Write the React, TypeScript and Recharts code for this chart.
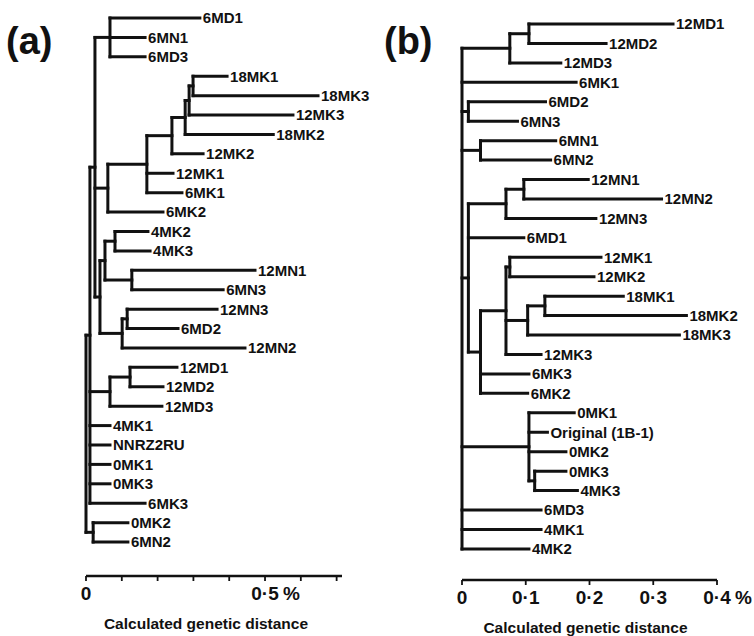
import React from 'react';
import { ComposedChart, Scatter, XAxis, YAxis, ReferenceLine } from 'recharts';

const FONT = "'Liberation Sans', Arial, Helvetica, sans-serif";
const INK = '#111';

// ---- panel (a) ----
const leavesA = ['6MD1', '6MN1', '6MD3', '18MK1', '18MK3', '12MK3', '18MK2', '12MK2', '12MK1', '6MK1', '6MK2', '4MK2', '4MK3', '12MN1', '6MN3', '12MN3', '6MD2', '12MN2', '12MD1', '12MD2', '12MD3', '4MK1', 'NNRZ2RU', '0MK1', '0MK3', '6MK3', '0MK2', '6MN2'];
const tipsA = [0.318, 0.165, 0.165, 0.394, 0.648, 0.578, 0.523, 0.327, 0.243, 0.268, 0.215, 0.173, 0.179, 0.472, 0.383, 0.366, 0.257, 0.444, 0.254, 0.215, 0.212, 0.067, 0.067, 0.067, 0.067, 0.165, 0.117, 0.117];
const nodesA = [
  { id: 'a1', x: 0.299, kids: ['18MK1', '18MK3'] },
  { id: 'a2', x: 0.288, kids: ['a1', '12MK3'] },
  { id: 'a3', x: 0.277, kids: ['a2', '18MK2'] },
  { id: 'a4', x: 0.24, kids: ['a3', '12MK2'] },
  { id: 'a5', x: 0.17, kids: ['a4', '12MK1', '6MK1'] },
  { id: 'a6', x: 0.061, kids: ['a5', '6MK2'] },
  { id: 'a7', x: 0.067, kids: ['6MD1', '6MN1', '6MD3'] },
  { id: 'a8', x: 0.081, kids: ['4MK2', '4MK3'] },
  { id: 'a9', x: 0.128, kids: ['12MN1', '6MN3'] },
  { id: 'a10', x: 0.053, kids: ['a8', 'a9'] },
  { id: 'a11', x: 0.115, kids: ['12MN3', '6MD2'] },
  { id: 'a12', x: 0.101, kids: ['a11', '12MN2'] },
  { id: 'a13', x: 0.039, kids: ['a10', 'a12'] },
  { id: 'a14', x: 0.025, kids: ['a7', 'a6', 'a13'] },
  { id: 'a15', x: 0.123, kids: ['12MD1', '12MD2'] },
  { id: 'a16', x: 0.067, kids: ['a15', '12MD3'] },
  { id: 'a17', x: 0.011, kids: ['a14', 'a16', '4MK1', 'NNRZ2RU', '0MK1', '0MK3', '6MK3'] },
  { id: 'a18', x: 0.02, kids: ['0MK2', '6MN2'] },
  { id: 'a0', x: 0, kids: ['a17', 'a18'] },
];
const ticksA = [0, 0.1, 0.2, 0.3, 0.4, 0.5, 0.6, 0.7];
const tickLabelsA = ['0', '', '', '', '', '0·5 %', '', ''];

// ---- panel (b) ----
const leavesB = ['12MD1', '12MD2', '12MD3', '6MK1', '6MD2', '6MN3', '6MN1', '6MN2', '12MN1', '12MN2', '12MN3', '6MD1', '12MK1', '12MK2', '18MK1', '18MK2', '18MK3', '12MK3', '6MK3', '6MK2', '0MK1', 'Original (1B-1)', '0MK2', '0MK3', '4MK3', '6MD3', '4MK1', '4MK2'];
const tipsB = [0.331, 0.226, 0.155, 0.179, 0.131, 0.087, 0.147, 0.139, 0.198, 0.313, 0.21, 0.097, 0.218, 0.207, 0.253, 0.352, 0.341, 0.124, 0.105, 0.103, 0.176, 0.134, 0.163, 0.163, 0.181, 0.124, 0.124, 0.105];
const nodesB = [
  { id: 'b1', x: 0.105, kids: ['12MD1', '12MD2'] },
  { id: 'b2', x: 0.075, kids: ['b1', '12MD3'] },
  { id: 'b3', x: 0.01, kids: ['6MD2', '6MN3'] },
  { id: 'b4', x: 0.029, kids: ['6MN1', '6MN2'] },
  { id: 'b5', x: 0.097, kids: ['12MN1', '12MN2'] },
  { id: 'b6', x: 0.069, kids: ['b5', '12MN3'] },
  { id: 'b7', x: 0.075, kids: ['12MK1', '12MK2'] },
  { id: 'b8', x: 0.13, kids: ['18MK1', '18MK2'] },
  { id: 'b9', x: 0.103, kids: ['b8', '18MK3'] },
  { id: 'b10', x: 0.069, kids: ['b7', 'b9', '12MK3'] },
  { id: 'b11', x: 0.029, kids: ['b10', '6MK3', '6MK2'] },
  { id: 'b12', x: 0.01, kids: ['b6', '6MD1', 'b11'] },
  { id: 'b13', x: 0.114, kids: ['0MK3', '4MK3'] },
  { id: 'b14', x: 0.105, kids: ['0MK1', 'Original (1B-1)', '0MK2', 'b13'] },
  { id: 'b0', x: 0, kids: ['b2', '6MK1', 'b3', 'b4', 'b12', 'b14', '6MD3', '4MK1', '4MK2'] },
];
const ticksB = [0, 0.1, 0.2, 0.3, 0.4];
const tickLabelsB = ['0', '0·1', '0·2', '0·3', '0·4 %'];

type Pt = { x: number; y: number };
type TreeNode = { id: string; x: number; kids: string[] };

// elbow layout: leaves at their row index, node joins at the middle of its span
function buildSegments(leaves: string[], tips: number[], nodes: TreeNode[], rootId: string) {
  const pos: Record<string, Pt> = {};
  leaves.forEach((name, i) => (pos[name] = { x: tips[i], y: i }));
  const byId: Record<string, TreeNode> = {};
  nodes.forEach((n) => (byId[n.id] = n));
  const segs: [Pt, Pt][] = [];
  const place = (id: string): Pt => {
    if (pos[id]) return pos[id];
    const node = byId[id];
    const kids = node.kids.map(place);
    const y0 = kids[0].y;
    const y1 = kids[kids.length - 1].y;
    kids.forEach((k) => segs.push([{ x: node.x, y: k.y }, { x: k.x, y: k.y }]));
    segs.push([{ x: node.x, y: y0 }, { x: node.x, y: y1 }]);
    pos[id] = { x: node.x, y: (y0 + y1) / 2 };
    return pos[id];
  };
  place(rootId);
  return segs;
}

const LeafLabel = (props: any) => (
  <text x={props.cx + 3} y={props.cy} dy="0.36em" fontSize={15} fontWeight="bold" fontFamily={FONT} fill={INK}>
    {props.payload.name}
  </text>
);

const makeTick = (ticks: number[], labels: string[]) => (props: any) => {
  const { x, y, payload } = props;
  const label = labels[ticks.indexOf(payload.value)] || '';
  if (!label) return <g />;
  const pct = label.endsWith('%');
  const num = pct ? label.replace(/\s*%$/, '') : label;
  return (
    <g fontFamily={FONT} fontWeight="bold" fontSize={19} fill={INK}>
      <text x={x} y={y} dy={17} textAnchor="middle">{num}</text>
      {pct && <text x={x + 18} y={y} dy={17} textAnchor="start">%</text>}
    </g>
  );
};

interface TreeProps {
  leaves: string[];
  tips: number[];
  nodes: TreeNode[];
  rootId: string;
  ticks: number[];
  tickLabels: string[];
  xMax: number;
  yMax: number;
  width: number;
  margin: { top: number; right: number; bottom: number; left: number };
  axisHeight: number;
  titleOffset: number;
  titleDx: number;
}

const Tree: React.FC<TreeProps> = (p) => {
  const segs = buildSegments(p.leaves, p.tips, p.nodes, p.rootId);
  const labelData = p.leaves.map((name, i) => ({ x: p.tips[i], y: i, name }));
  return (
    <ComposedChart width={p.width} height={636} margin={p.margin}>
      <XAxis
        type="number"
        dataKey="x"
        domain={[0, p.xMax]}
        ticks={p.ticks}
        interval={0}
        height={p.axisHeight}
        axisLine={{ stroke: INK, strokeWidth: 2.4 }}
        tickLine={{ stroke: INK, strokeWidth: 1.8 }}
        tickSize={5}
        tickMargin={2}
        tick={makeTick(p.ticks, p.tickLabels)}
        label={{
          value: 'Calculated genetic distance',
          position: 'insideBottom',
          offset: p.titleOffset,
          dx: p.titleDx,
          fill: INK,
          fontSize: 15.5,
          fontWeight: 'bold',
          fontFamily: FONT,
        }}
      />
      <YAxis type="number" dataKey="y" domain={[0, p.yMax]} reversed hide width={0} />
      {segs.map((s, i) => (
        <ReferenceLine
          key={i}
          segment={s}
          stroke={INK}
          strokeWidth={3}
          strokeLinecap="square"
          ifOverflow="visible"
        />
      ))}
      <Scatter data={labelData} shape={LeafLabel} isAnimationActive={false} />
    </ComposedChart>
  );
};

export default function App() {
  return (
    <div style={{ position: 'absolute', left: 0, top: 0, width: 754, height: 636, background: '#fff' }}>
      <div style={{ position: 'absolute', left: 0, top: 0 }}>
        <Tree
          leaves={leavesA}
          tips={tipsA}
          nodes={nodesA}
          rootId="a0"
          ticks={ticksA}
          tickLabels={tickLabelsA}
          xMax={0.715}
          yMax={28.75}
          width={380}
          margin={{ top: 18, right: 38, bottom: 0, left: 86 }}
          axisHeight={60}
          titleOffset={7}
          titleDx={-8}
        />
      </div>
      <div style={{ position: 'absolute', left: 380, top: 0 }}>
        <Tree
          leaves={leavesB}
          tips={tipsB}
          nodes={nodesB}
          rootId="b0"
          ticks={ticksB}
          tickLabels={tickLabelsB}
          xMax={0.4}
          yMax={28.6}
          width={374}
          margin={{ top: 24, right: 37, bottom: 0, left: 82 }}
          axisHeight={56}
          titleOffset={3}
          titleDx={-4}
        />
      </div>
      <svg width={754} height={70} style={{ position: 'absolute', left: 0, top: 0, pointerEvents: 'none' }}>
        <text x={6} y={54} fontSize={38} fontWeight="bold" fontFamily={FONT} fill={INK}>(a)</text>
        <text x={384} y={54} fontSize={38} fontWeight="bold" fontFamily={FONT} fill={INK}>(b)</text>
      </svg>
    </div>
  );
}
